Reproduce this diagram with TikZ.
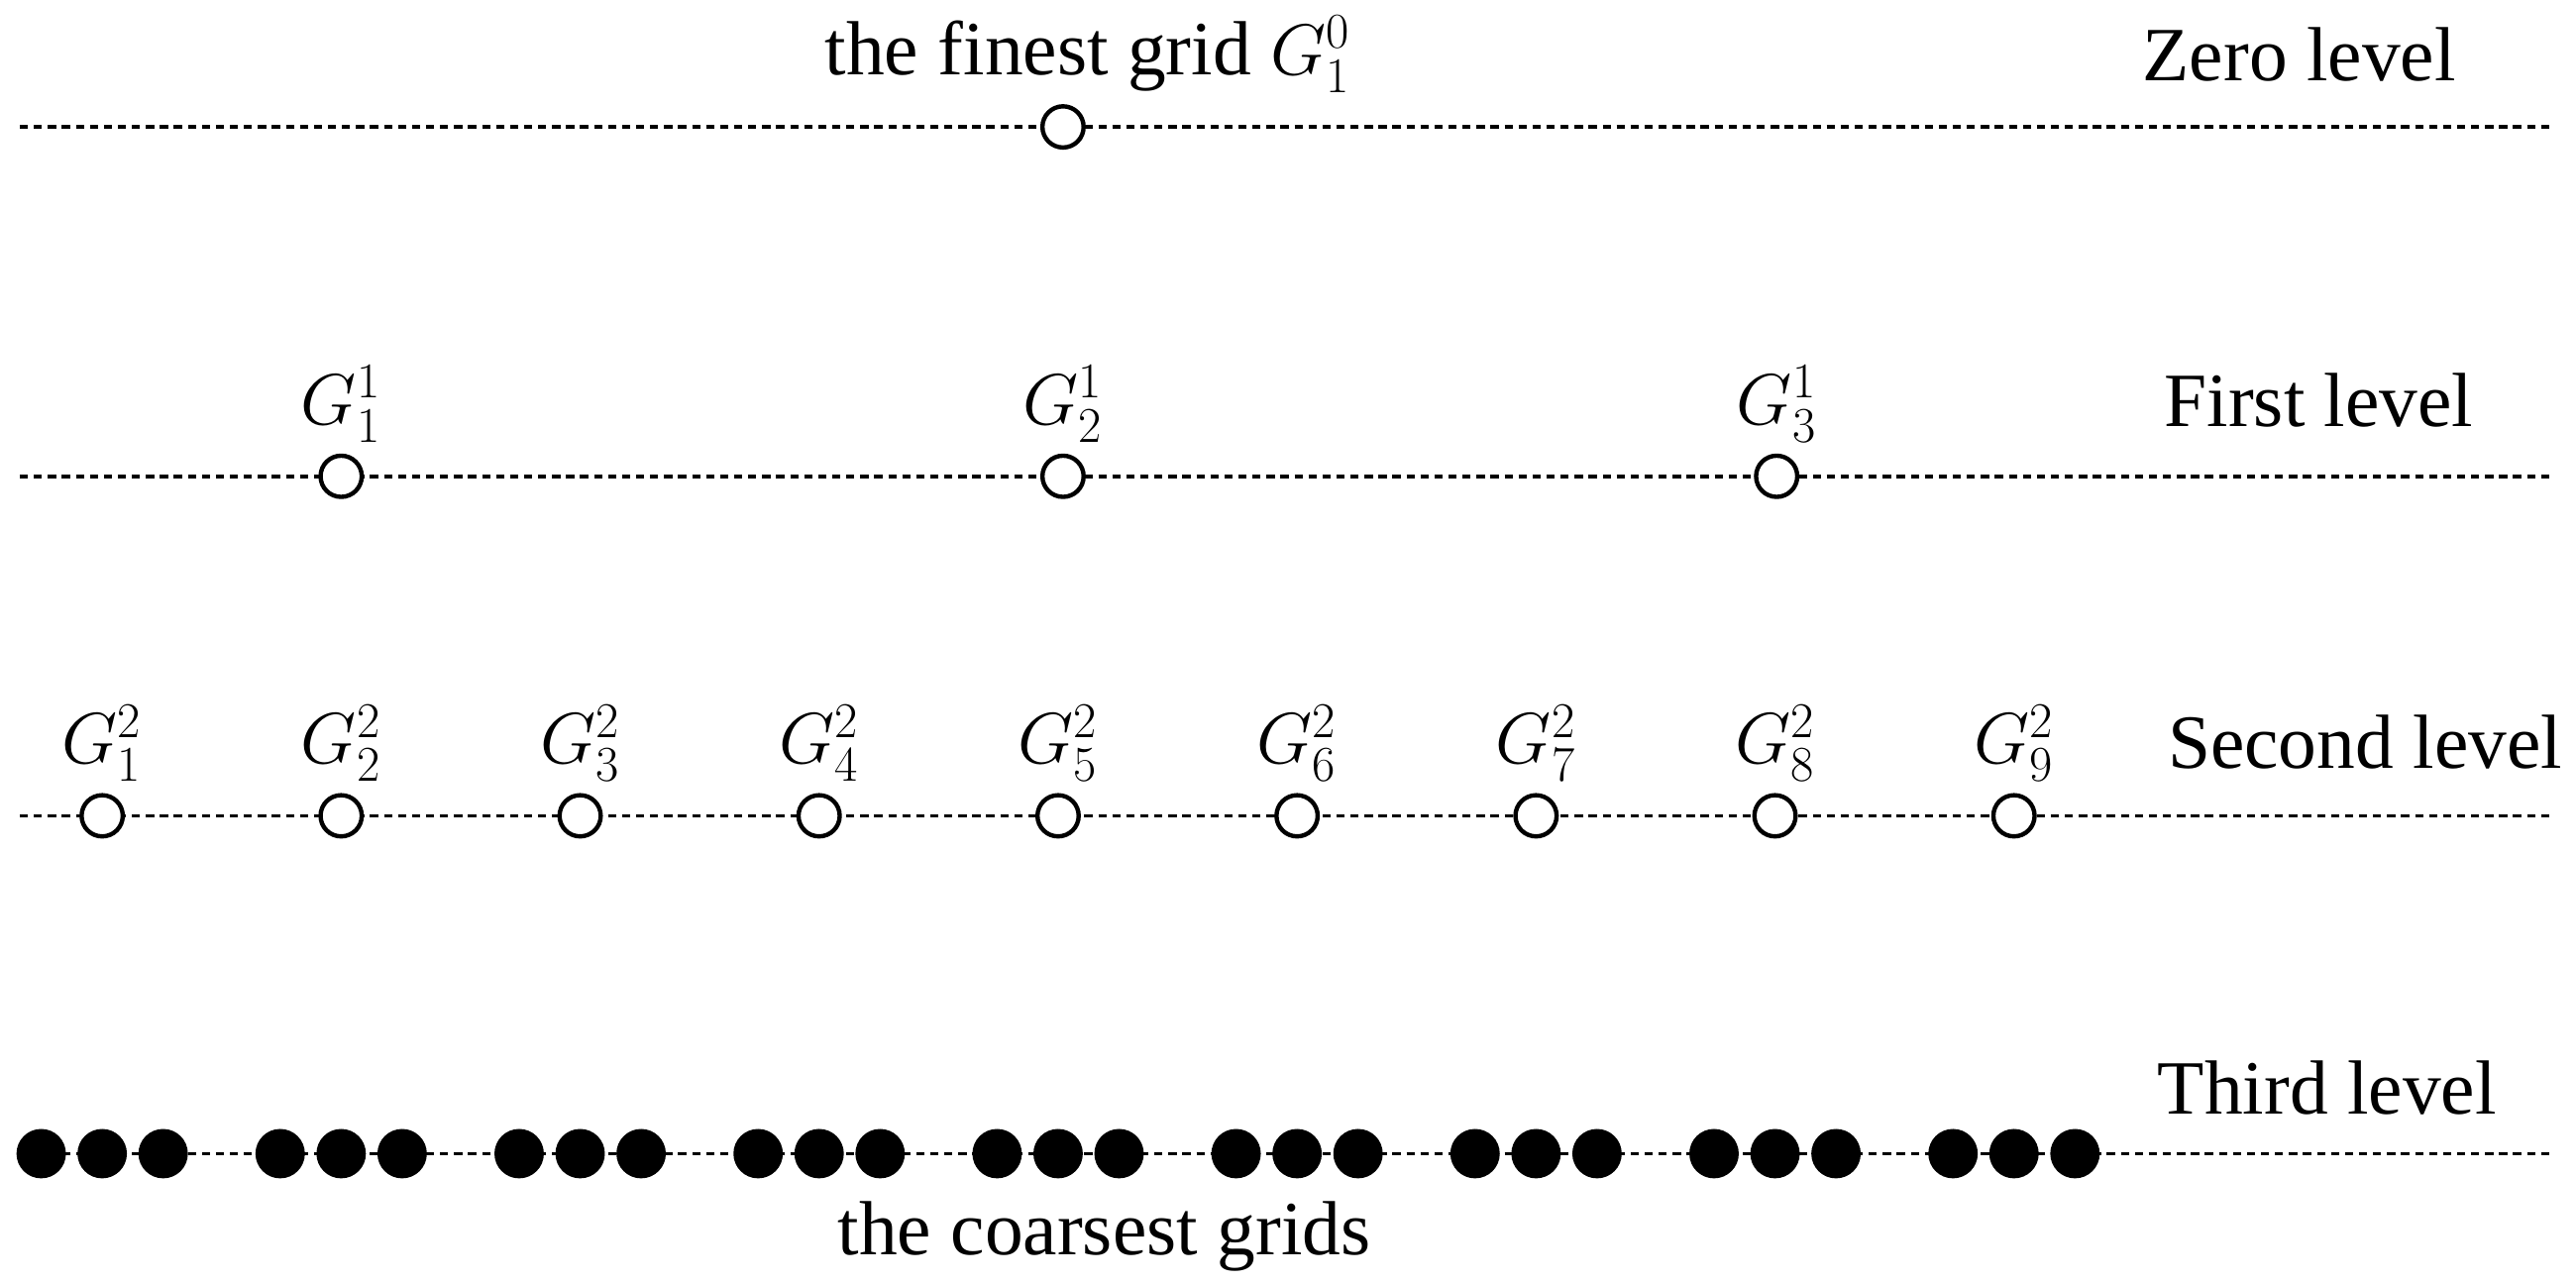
\documentclass[tikz,border=0pt]{standalone}
\usepackage{fontspec}
\setmainfont{Liberation Serif}
\begin{document}
\begin{tikzpicture}[x=0.02cm,y=-0.02cm,
  lvl/.style={dash pattern=on 0.1cm off 0.07cm, line width=1.3pt},
  opn/.style={circle,draw,fill=white,line width=1.5pt,minimum size=0.5cm,inner sep=0pt},
  fil/.style={circle,fill=black,minimum size=0.6cm,inner sep=0pt},
  txt/.style={font=\fontsize{26.5}{30}\selectfont,inner sep=0pt}]
\useasboundingbox (0,0) rectangle (1563,778);
\foreach \n/\y in {z/77,a/289,b/495,c/700}{
  \coordinate (\n L) at (12,\y); \coordinate (\n R) at (1550,\y);
  \draw[lvl] (\n L) -- (\n R);}
\node[opn] (z1) at (645,77) {};
\node[txt] (zt) at (660,33) {the finest grid $G_1^0$};
\node[txt] (zl) at (1395,33) {Zero level};
\foreach \i/\x in {1/207,2/645,3/1078}{
  \node[opn] (a\i) at (\x,289) {};
  \node[txt] (al\i) at (\x,245) {$G_{\i}^1$};}
\node[txt] (alv) at (1407,243) {First level};
\foreach \i in {1,...,9}{
  \pgfmathsetmacro{\x}{62+145*(\i-1)}
  \node[opn] (b\i) at (\x,495) {};
  \node[txt] (bl\i) at (\x,451) {$G_{\i}^2$};
  \node[fil] (c\i a) at (\x-37,700) {};
  \node[fil] (c\i b) at (\x,700) {};
  \node[fil] (c\i c) at (\x+37,700) {};}
\node[txt] (blv) at (1435,450) {Second level};
\node[txt] (clv) at (1412,660) {Third level};
\node[txt] (ct) at (670,750) {the coarsest grids};
\end{tikzpicture}
\end{document}
